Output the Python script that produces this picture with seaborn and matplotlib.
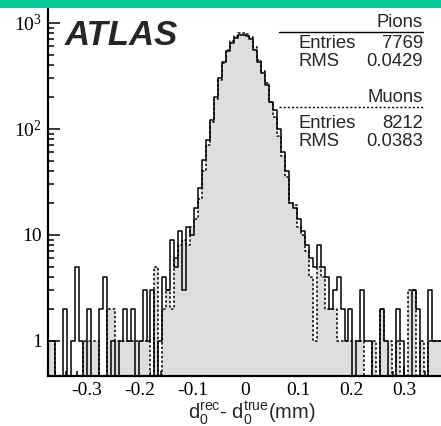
import numpy as np
import pandas as pd
import matplotlib
matplotlib.use("Agg")
import matplotlib.pyplot as plt
from matplotlib.patches import Rectangle
from matplotlib.lines import Line2D
from matplotlib.ticker import MultipleLocator, LogLocator, NullFormatter, FuncFormatter
import seaborn as sns

# Binning of the impact-parameter residual d0(rec) - d0(true) in mm
bin_lo, bin_hi, n_bins = -0.375, 0.375, 100

# Pion sample, counts per bin
pions = [
    1, 1, 0, 0, 2, 0, 1, 5, 1, 0,
    2, 0, 0, 2, 4, 0, 1, 0, 1, 2,
    1, 2, 0, 1, 3, 1, 3, 0, 1, 4,
    3, 9, 5, 11, 3, 12, 10, 18, 28, 51,
    79, 122, 200, 300, 430, 545, 650, 725, 770, 775,
    760, 700, 560, 430, 340, 260, 180, 150, 100, 60,
    40, 20, 18, 14, 11, 8, 6, 5, 8, 5,
    4, 2, 3, 4, 2, 1, 2, 0, 1, 3,
    1, 1, 0, 0, 2, 1, 0, 0, 2, 1,
    0, 0, 3, 2, 0, 0, 3, 1, 1, 1,
]

# Muon sample, counts per bin
muons = [
    1, 1, 0, 0, 0, 0, 0, 0, 0, 1,
    1, 1, 1, 0, 0, 2, 2, 1, 1, 1,
    1, 1, 1, 1, 1, 1, 0, 5, 0, 2,
    3, 2, 6, 8, 9, 8, 12, 14, 22, 40,
    70, 115, 190, 290, 420, 550, 670, 760, 800, 810,
    790, 730, 590, 450, 350, 270, 180, 130, 85, 55,
    35, 20, 19, 12, 10, 7, 4, 1, 5, 4,
    2, 2, 2, 1, 1, 1, 1, 1, 1, 1,
    0, 0, 1, 0, 2, 1, 1, 0, 1, 0,
    0, 3, 3, 0, 1, 0, 1, 1, 1, 1,
]

series_names = ["Pions", "Muons"]
entries = ["7769", "8212"]
rms = ["0.0429", "0.0383"]

x_ticks = [-0.3, -0.2, -0.1, 0.0, 0.1, 0.2, 0.3]
y_ticks = [1, 10, 100, 1000]

edges = np.linspace(bin_lo, bin_hi, n_bins + 1)
centers = 0.5 * (edges[:-1] + edges[1:])
df = pd.DataFrame({"d0": centers,
                   "pions": np.asarray(pions, dtype=float),
                   "muons": np.asarray(muons, dtype=float)})

sns.set_style("ticks")
plt.rcParams["axes.unicode_minus"] = False
plt.rcParams["mathtext.fontset"] = "custom"

W, H = 441, 426
fig = plt.figure(figsize=(W / 100, H / 100), dpi=100)
ax = fig.add_axes([47.5 / W, 50 / H, 396 / W, 376 / H])
ax.set_yscale("log")


def px(x, y):
    return x / W, 1 - y / H


hist_kw = dict(data=df, x="d0", bins=n_bins, binrange=(bin_lo, bin_hi),
               element="step", ax=ax)
# Muons: grey filled histogram with dotted outline
sns.histplot(weights="muons", fill=True, color="#dedede", alpha=1.0,
             linewidth=0, **hist_kw)
sns.histplot(weights="muons", fill=False, color="black", linewidth=1.1,
             linestyle=(0, (1.6, 1.4)), **hist_kw)
# Pions: solid outline
sns.histplot(weights="pions", fill=False, color="black", linewidth=1.1, **hist_kw)

ax.set_xlim(bin_lo, bin_hi)
ax.set_ylim(0.467, 1644)
ax.set_xlabel("")
ax.set_ylabel("")

for side in ("top", "right"):
    ax.spines[side].set_visible(False)
for side in ("left", "bottom"):
    ax.spines[side].set_linewidth(1.6)
    ax.spines[side].set_color("black")

ax.xaxis.set_minor_locator(MultipleLocator(0.02))
ax.set_xticks(x_ticks)
ax.xaxis.set_major_formatter(FuncFormatter(lambda v, p: "0" if abs(v) < 1e-9 else f"{v:.1f}"))
ax.yaxis.set_minor_locator(LogLocator(base=10, subs=np.arange(2, 10)))
ax.yaxis.set_minor_formatter(NullFormatter())
ax.set_yticks(y_ticks)


def ylab(v, p):
    if v == 1:
        return "1"
    if v == 10:
        return "10"
    return r"$\mathdefault{10^{%d}}$" % int(round(np.log10(v)))


ax.yaxis.set_major_formatter(FuncFormatter(ylab))

ax.tick_params(axis="both", which="both", direction="in", color="black", width=1.1)
ax.tick_params(axis="x", which="major", length=7.5, pad=4)
ax.tick_params(axis="x", which="minor", length=3.8)
ax.tick_params(axis="y", which="major", length=8.5, pad=4)
ax.tick_params(axis="y", which="minor", length=4.5)
for lab in ax.get_xticklabels() + ax.get_yticklabels():
    lab.set_fontfamily("Liberation Serif")
    lab.set_fontsize(14)
    lab.set_color("black")

# Experiment label
fig.text(*px(65, 45), "ATLAS", fontfamily="Liberation Sans", fontweight="bold",
         fontstyle="italic", fontsize=25, va="baseline", ha="left")

# Statistics boxes
stat_font = dict(fontfamily="Liberation Sans", fontsize=13.3, va="baseline")
rows = [(27, 48, 66, 32, "-"), (102, 128, 146, 107, (0, (1.5, 1.5)))]
for (yt, ye, yr, yl, ls), name, ent, r in zip(rows, series_names, entries, rms):
    fig.text(*px(423, yt), name, ha="right", **stat_font)
    fig.text(*px(298, ye), "Entries", ha="left", **stat_font)
    fig.text(*px(423, ye), ent, ha="right", **stat_font)
    fig.text(*px(298, yr), "RMS", ha="left", **stat_font)
    fig.text(*px(423, yr), r, ha="right", **stat_font)
    x0, y0 = px(279, yl)
    x1, _ = px(423, yl)
    fig.add_artist(Line2D([x0, x1], [y0, y0], color="black", linewidth=1.0,
                          linestyle=ls, transform=fig.transFigure))

# Axis title
fig.text(*px(188, 419), r"$\mathdefault{d_{0}^{rec}}$- $\mathdefault{d_{0}^{true}}$(mm)",
         fontfamily="Liberation Sans", fontsize=14.5, va="baseline", ha="left")

# Header band
fig.add_artist(Rectangle((0, 1 - 7.5 / H), 1, 7.5 / H, transform=fig.transFigure,
                         facecolor="#00c896", edgecolor="none", zorder=10))

fig.savefig("out.png", dpi=100)
